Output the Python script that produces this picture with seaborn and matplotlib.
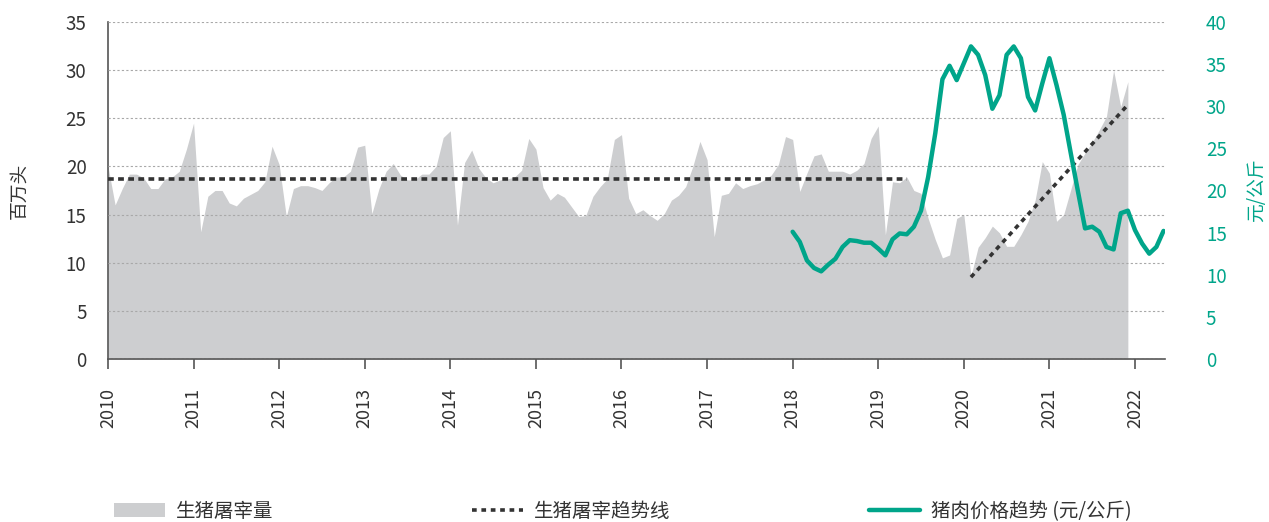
import numpy as np
import pandas as pd
import seaborn as sns
import matplotlib.pyplot as plt
from matplotlib.patches import Patch
from matplotlib.lines import Line2D

sns.set_style("white")
plt.rcParams["font.family"] = ["Noto Sans CJK SC", "DejaVu Sans"]

GRAY = "#cdced0"
TEAL = "#00a58a"
DARK = "#333333"
AXIS = "#555555"

# monthly hog slaughter (million head), Jan 2010 - Dec 2021
slaughter_2010 = [20.0, 16.0, 17.7, 19.2, 19.2, 18.8, 17.7, 17.7, 18.7, 18.9, 19.5, 21.8]
slaughter_2011 = [24.5, 13.2, 16.9, 17.5, 17.5, 16.2, 15.9, 16.7, 17.1, 17.5, 18.4, 22.1]
slaughter_2012 = [20.2, 14.8, 17.7, 18.0, 18.0, 17.8, 17.5, 18.3, 18.9, 18.9, 19.5, 22.0]
slaughter_2013 = [22.2, 15.1, 17.7, 19.5, 20.3, 19.1, 18.6, 18.6, 19.2, 19.2, 20.0, 23.0]
slaughter_2014 = [23.7, 13.9, 20.4, 21.7, 19.8, 18.8, 18.3, 18.6, 18.7, 18.9, 19.6, 22.9]
slaughter_2015 = [21.8, 17.8, 16.5, 17.2, 16.8, 15.8, 14.8, 14.9, 16.9, 17.9, 18.7, 22.8]
slaughter_2016 = [23.3, 16.7, 15.1, 15.5, 14.9, 14.4, 15.1, 16.5, 17.0, 17.9, 20.0, 22.6]
slaughter_2017 = [20.7, 12.7, 17.0, 17.2, 18.3, 17.7, 18.0, 18.2, 18.6, 19.1, 20.2, 23.1]
slaughter_2018 = [22.8, 17.4, 19.3, 21.1, 21.3, 19.5, 19.5, 19.5, 19.2, 19.6, 20.3, 22.9]
slaughter_2019 = [24.2, 12.9, 18.4, 18.3, 18.9, 17.5, 17.2, 14.6, 12.4, 10.5, 10.8, 14.6]
slaughter_2020 = [15.0, 8.6, 11.6, 12.6, 13.8, 13.1, 11.7, 11.7, 12.9, 14.3, 16.5, 20.5]
slaughter_2021 = [19.3, 14.3, 15.0, 17.6, 20.2, 21.4, 22.5, 23.8, 25.2, 30.0, 26.2, 28.8]

# monthly pork price (yuan/kg), Jan 2018 - May 2022
price_2018 = [15.1, 13.9, 11.7, 10.8, 10.4, 11.2, 11.9, 13.3, 14.1, 14.0, 13.8, 13.8]
price_2019 = [13.1, 12.3, 14.2, 14.9, 14.8, 15.7, 17.6, 21.6, 26.8, 33.2, 34.8, 33.1]
price_2020 = [35.1, 37.1, 36.1, 33.7, 29.7, 31.3, 36.1, 37.1, 35.7, 31.1, 29.5, 32.7]
price_2021 = [35.7, 32.5, 29.0, 24.4, 19.9, 15.5, 15.7, 15.1, 13.3, 13.0, 17.3, 17.6]
price_2022 = [15.3, 13.7, 12.5, 13.3, 15.2]

# trend lines (start/end month and value)
trend1_x = [2010.0, 2019 + 4 / 12]
trend1_y = [18.7, 18.7]
trend2_x = [2020 + 1 / 12, 2021 + 11 / 12]
trend2_y = [8.5, 26.4]

year_ticks = list(range(2010, 2023))

slaughter = (slaughter_2010 + slaughter_2011 + slaughter_2012 + slaughter_2013
             + slaughter_2014 + slaughter_2015 + slaughter_2016 + slaughter_2017
             + slaughter_2018 + slaughter_2019 + slaughter_2020 + slaughter_2021)
price = price_2018 + price_2019 + price_2020 + price_2021 + price_2022

df_s = pd.DataFrame({"t": 2010 + np.arange(len(slaughter)) / 12, "v": slaughter})
df_p = pd.DataFrame({"t": 2018 + np.arange(len(price)) / 12, "v": price})

fig = plt.figure(figsize=(12.69, 5.22), dpi=100)
ax = fig.add_axes([0.0851, 0.3123, 0.8329, 0.6456])
ax2 = ax.twinx()

ax.fill_between(df_s["t"], 0, df_s["v"], color=GRAY, linewidth=0, zorder=1)
sns.lineplot(x=trend1_x, y=trend1_y, ax=ax, color=DARK, linewidth=2.6,
             linestyle=(0, (1.6, 1.2)), zorder=3)
sns.lineplot(x=trend2_x, y=trend2_y, ax=ax, color=DARK, linewidth=2.6,
             linestyle=(0, (1.3, 1.3)), zorder=3)
sns.lineplot(data=df_p, x="t", y="v", ax=ax2, color=TEAL, linewidth=3.2, zorder=4)

ax.set_xlim(2010, 2022.35)
ax.set_ylim(0, 35)
ax2.set_ylim(0, 40)
ax.set_yticks(range(0, 36, 5))
ax2.set_yticks(range(0, 41, 5))
ax.set_xticks(year_ticks)
ax.set_xticklabels([str(y) for y in year_ticks], rotation=90)

ax.grid(axis="y", color="#a8a8a8", linestyle=(0, (2, 2)), linewidth=0.8)
ax.set_axisbelow(False)
ax.set_zorder(ax2.get_zorder() - 1)
ax.patch.set_visible(False)

for a in (ax, ax2):
    for s in ("top", "right", "left", "bottom"):
        a.spines[s].set_visible(False)
ax.spines["left"].set_visible(True)
ax.spines["bottom"].set_visible(True)
ax.spines["left"].set_color(AXIS)
ax.spines["bottom"].set_color(AXIS)
ax.spines["left"].set_linewidth(1.2)
ax.spines["bottom"].set_linewidth(1.2)

ax.tick_params(axis="x", bottom=True, length=7, width=1.2, color=AXIS,
               labelsize=13, labelcolor="#333333", pad=14)
ax.tick_params(axis="y", left=False, labelsize=13.5, labelcolor="#333333", pad=12)
ax2.tick_params(axis="y", right=False, labelsize=13.5, labelcolor=TEAL, pad=26)

ax.set_xlabel("")
ax.set_ylabel("百万头", fontsize=13.5, color="#333333", labelpad=26)
ax2.set_xlabel("")
ax2.set_ylabel("元/公斤", fontsize=13.5, color=TEAL, labelpad=14)

handles = [
    Patch(facecolor=GRAY, edgecolor="none"),
    Line2D([], [], color=DARK, linewidth=2.6, linestyle=(0, (1.3, 1.3))),
    Line2D([], [], color=TEAL, linewidth=3.2),
]
labels = ["生猪屠宰量", "生猪屠宰趋势线", "猪肉价格趋势 (元/公斤)"]
fig.legend(handles, labels, loc="center", bbox_to_anchor=(0.491, 0.02), ncol=3,
           frameon=False, fontsize=14, handlelength=2.6, handleheight=0.7,
           columnspacing=10.2, handletextpad=0.6, labelcolor="#333333")

fig.savefig("out.png", dpi=100)
